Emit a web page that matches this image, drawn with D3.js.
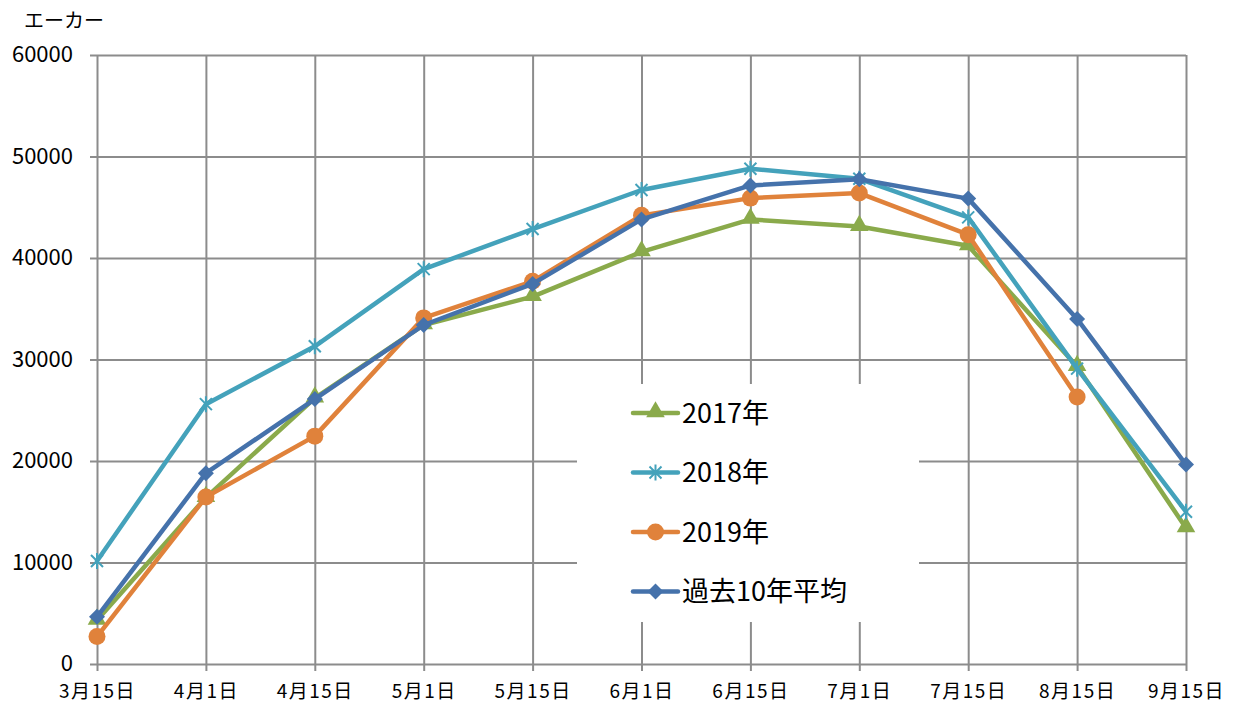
<!DOCTYPE html>
<html>
<head>
<meta charset="utf-8">
<script src="https://cdn.jsdelivr.net/npm/d3@7"></script>
<style>
  body { margin: 0; background: #fff; }
  svg text { font-family: "Noto Sans CJK JP", "Noto Sans", sans-serif; fill: #000; }
</style>
</head>
<body>
<div id="chart"></div>
<script>
// categories (x axis)
const dates = ['3月15日', '4月1日', '4月15日', '5月1日', '5月15日', '6月1日', '6月15日', '7月1日', '7月15日', '8月15日', '9月15日'];

// series values (acres)
const y2017 = [4300, 16400, 26200, 33400, 36200, 40600, 43800, 43100, 41200, 29300, 13400];
const y2018 = [10150, 25600, 31300, 38900, 42850, 46700, 48800, 47800, 44000, 29100, 15000];
const y2019 = [2700, 16450, 22450, 34100, 37700, 44200, 45900, 46400, 42300, 26300, null];
const avg10 = [4650, 18800, 26100, 33400, 37450, 43800, 47150, 47750, 45850, 34000, 19650];

const yTicks = [0, 10000, 20000, 30000, 40000, 50000, 60000];

const series = [
    { name: '2017年', values: y2017, color: '#8aaa4b', marker: 'triangle' },
    { name: '2018年', values: y2018, color: '#44a2bb', marker: 'star' },
    { name: '2019年', values: y2019, color: '#e0823b', marker: 'circle' },
    { name: '過去10年平均', values: avg10, color: '#4572ab', marker: 'diamond' }
];

const width = 1238, height = 709;
const margin = { top: 55, right: 52, bottom: 45, left: 97 };
const innerW = width - margin.left - margin.right;
const innerH = height - margin.top - margin.bottom;

const svg = d3.select('#chart')
    .append('svg')
    .attr('width', width)
    .attr('height', height);

const g = svg.append('g')
    .attr('transform', `translate(${margin.left},${margin.top})`);

const x = d3.scalePoint()
    .domain(dates)
    .range([0, innerW]);

const y = d3.scaleLinear()
    .domain([0, 60000])
    .range([innerH, 0]);

const gridColor = '#8c8c8c';

// horizontal grid + y axis
const yAxis = g.append('g')
    .call(d3.axisLeft(y).tickValues(yTicks).tickFormat(d3.format('d'))
        .tickSize(-innerW).tickSizeOuter(0).tickPadding(24));
yAxis.select('.domain').remove();
yAxis.selectAll('.tick line')
    .attr('stroke', gridColor)
    .attr('stroke-width', 2)
    .attr('x1', -7);
yAxis.selectAll('.tick text')
    .style('font-size', '22px')
    .attr('dy', '0.3em');

// vertical grid + x axis
const xAxis = g.append('g')
    .attr('transform', `translate(0,${innerH})`)
    .call(d3.axisBottom(x).tickSize(-innerH).tickSizeOuter(0).tickPadding(21));
xAxis.select('.domain').remove();
xAxis.selectAll('.tick line')
    .attr('stroke', gridColor)
    .attr('stroke-width', 2)
    .attr('y1', 7);
xAxis.selectAll('.tick text')
    .style('font-size', '19px')
    .style('letter-spacing', '1.5px');

// legend background (hides grid behind it)
const legendX = 577, legendY = 384;
svg.append('rect')
    .attr('x', legendX)
    .attr('y', legendY)
    .attr('width', 342)
    .attr('height', 238)
    .attr('fill', '#fff');

// lines and markers
const line = d3.line()
    .defined(d => d != null)
    .x((d, i) => x(dates[i]))
    .y(d => y(d));

function drawMarker(sel, type, color) {
    if (type === 'triangle') {
        sel.append('path')
            .attr('d', d3.symbol().type(d3.symbolTriangle).size(150))
            .attr('transform', 'translate(0,-1)')
            .attr('fill', color);
    } else if (type === 'circle') {
        sel.append('circle')
            .attr('r', 8.5)
            .attr('fill', color);
    } else if (type === 'diamond') {
        sel.append('path')
            .attr('d', 'M0,-8L8,0L0,8L-8,0Z')
            .attr('fill', color);
    } else if (type === 'star') {
        sel.append('path')
            .attr('d', 'M-6,-6L6,6M-6,6L6,-6M0,-8L0,8')
            .attr('stroke', color)
            .attr('stroke-width', 2)
            .attr('fill', 'none');
    }
}

series.forEach(s => {
    g.append('path')
        .datum(s.values)
        .attr('fill', 'none')
        .attr('stroke', s.color)
        .attr('stroke-width', 4.5)
        .attr('stroke-linejoin', 'round')
        .attr('stroke-linecap', 'round')
        .attr('d', line);

    s.values.forEach((v, i) => {
        if (v == null) return;
        const m = g.append('g')
            .attr('transform', `translate(${x(dates[i])},${y(v)})`);
        drawMarker(m, s.marker, s.color);
    });
});

// legend
const legend = svg.append('g')
    .attr('transform', `translate(633,413)`);
series.forEach((s, i) => {
    const row = legend.append('g')
        .attr('transform', `translate(0,${i * 59.5})`);
    row.append('line')
        .attr('x1', 0).attr('x2', 45)
        .attr('stroke', s.color)
        .attr('stroke-width', 4.5)
        .attr('stroke-linecap', 'round');
    const m = row.append('g').attr('transform', 'translate(22.5,0)');
    drawMarker(m, s.marker, s.color);
    row.append('text')
        .attr('x', 49)
        .attr('dy', '0.36em')
        .style('font-size', '27px')
        .text(s.name);
});

// unit label
svg.append('text')
    .attr('x', 24)
    .attr('y', 28)
    .style('font-size', '20px')
    .text('エーカー');
</script>
</body>
</html>
